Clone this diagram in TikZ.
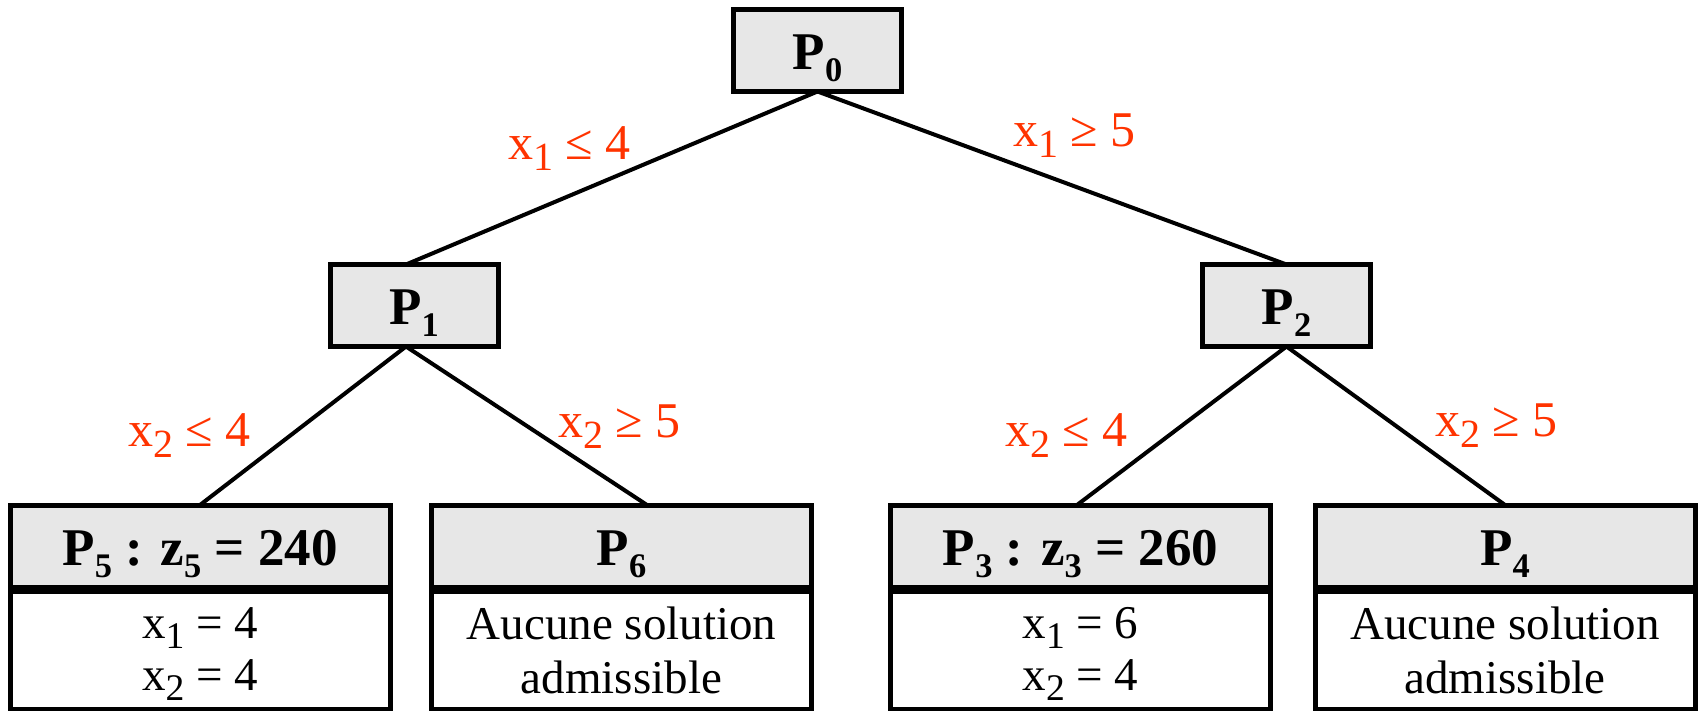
\documentclass[tikz,border=0pt]{standalone}
\usepackage{fontspec}
\setmainfont{Liberation Serif}
\usepackage{graphicx}
\definecolor{lbl}{RGB}{255,51,0}
\definecolor{hdr}{RGB}{231,231,231}
\newcommand{\nsub}[1]{\raisebox{-0.22em}{\scalebox{0.8}{#1}}}
\newcommand{\bsub}[1]{\raisebox{-0.22em}{\scalebox{0.65}{#1}}}
\tikzset{
  hbox/.style={draw, line width=5pt, fill=hdr, inner sep=0pt, outer sep=0pt,
    font=\fontsize{53}{60}\selectfont\bfseries, text height=39pt, text depth=0pt},
  topbox/.style={hbox, minimum width=168pt, minimum height=82pt},
  leafhead/.style={hbox, minimum width=380pt, minimum height=82pt},
  leafbody/.style={draw, line width=5pt, fill=white, inner sep=0pt, outer sep=0pt,
    minimum width=380pt, minimum height=118pt},
  branch/.style={line width=4pt},
  cond/.style={text=lbl, font=\fontsize{50}{56}\selectfont, anchor=base west, inner sep=0pt},
  bodytext/.style={font=\fontsize{47}{52}\selectfont, anchor=base, inner sep=0pt}
}
\begin{document}
\begin{tikzpicture}[x=1pt,y=-1pt]
\useasboundingbox (0,0) rectangle (1698,711);
% top boxes
\node[topbox] (P0) at (817.5,50.5) {P\bsub{0}};
\node[topbox] (P1) at (414,305.5) {P\bsub{1}};
\node[topbox] (P2) at (1286.5,305.5) {P\bsub{2}};
% leaf bodies
\node[leafbody] (B5) at (200,650) {};
\node[leafbody] (B6) at (621.5,650) {};
\node[leafbody] (B3) at (1080.5,650) {};
\node[leafbody] (B4) at (1505,650) {};
% leaf headers
\node[leafhead] (P5) at (200,546) {P\bsub{5} : z\bsub{5} = 240};
\node[leafhead] (P6) at (621.5,546) {P\bsub{6}};
\node[leafhead] (P3) at (1080.5,546) {P\bsub{3} : z\bsub{3} = 260};
\node[leafhead] (P4) at (1505,546) {P\bsub{4}};
% leaf contents
\node[bodytext] (t5a) at (200,638) {x\nsub{1} = 4};
\node[bodytext] (t5b) at (200,690) {x\nsub{2} = 4};
\node[bodytext] (t6a) at (621.5,639) {Aucune solution};
\node[bodytext] (t6b) at (621.5,693) {admissible};
\node[bodytext] (t3a) at (1080.5,638) {x\nsub{1} = 6};
\node[bodytext] (t3b) at (1080.5,690) {x\nsub{2} = 4};
\node[bodytext] (t4a) at (1505,639) {Aucune solution};
\node[bodytext] (t4b) at (1505,693) {admissible};
% branches
\draw[branch] (P0.south) -- ([xshift=-8pt]P1.north);
\draw[branch] (P0.south) -- (P2.north);
\draw[branch] ([xshift=-8pt]P1.south) -- (P5.north);
\draw[branch] ([xshift=-8pt]P1.south) -- ([xshift=25.5pt]P6.north);
\draw[branch] (P2.south) -- ([xshift=-3.5pt]P3.north);
\draw[branch] (P2.south) -- (P4.north);
% conditions
\node[cond] (c1) at (508,160) {x\nsub{1} ≤ 4};
\node[cond] (c2) at (1013,147) {x\nsub{1} ≥ 5};
\node[cond] (c3) at (128,446) {x\nsub{2} ≤ 4};
\node[cond] (c4) at (558,437) {x\nsub{2} ≥ 5};
\node[cond] (c5) at (1005,446) {x\nsub{2} ≤ 4};
\node[cond] (c6) at (1435,436) {x\nsub{2} ≥ 5};
\end{tikzpicture}
\end{document}
